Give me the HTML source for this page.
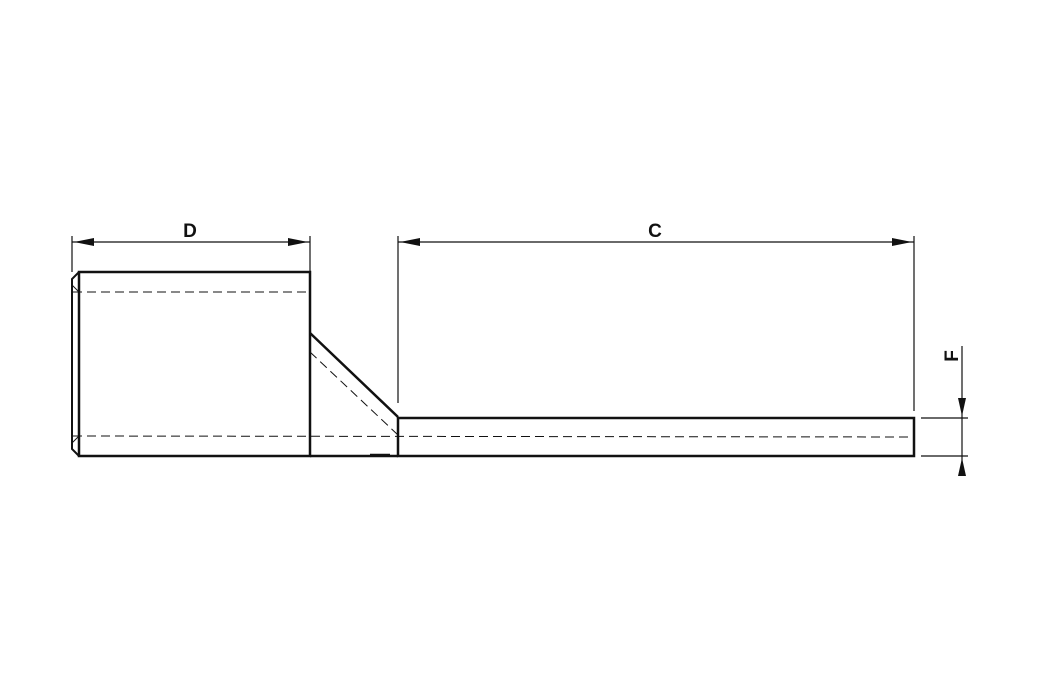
<!DOCTYPE html>
<html><head><meta charset="utf-8"><style>html,body{margin:0;padding:0;background:#fff}svg{display:block}</style></head>
<body>
<svg width="1045" height="674" viewBox="0 0 1045 674" xmlns="http://www.w3.org/2000/svg">
<g fill="none" stroke="#111">
<path d="M79,272 H310 V456 H79 Z" stroke-width="2.5"/>
<path d="M79,272 L72,279 V449 L79,456" stroke-width="2"/>
<path d="M310,333 L398,417 M310,456 H398 M370,455 H390" stroke-width="2.5"/>
<path d="M398,418 H914 V456 H398 Z" stroke-width="2.5"/>
<g stroke-width="1" stroke-dasharray="9,5">
<line x1="73" y1="292" x2="310" y2="292"/>
<line x1="73" y1="436" x2="914" y2="437"/>
<line x1="310" y1="352" x2="398" y2="435"/>
</g>
<line x1="72" y1="285" x2="79" y2="292" stroke-width="1"/>
<line x1="72" y1="443" x2="79" y2="436" stroke-width="1"/>
<g stroke-width="1.2">
<line x1="72" y1="236" x2="72" y2="272"/>
<line x1="310" y1="236" x2="310" y2="272"/>
<line x1="72" y1="242" x2="310" y2="242"/>
<line x1="398" y1="236" x2="398" y2="403"/>
<line x1="914" y1="236" x2="914" y2="411"/>
<line x1="398" y1="242" x2="914" y2="242"/>
<line x1="962" y1="346" x2="962" y2="476"/>
<line x1="921" y1="418" x2="968" y2="418"/>
<line x1="921" y1="456" x2="968" y2="456"/>
</g>
</g>
<g fill="#111">
<polygon points="74,242 94,238 94,246"/>
<polygon points="308,242 288,238 288,246"/>
<polygon points="400,242 420,238 420,246"/>
<polygon points="912,242 892,238 892,246"/>
<polygon points="962,416 958,398 966,398"/>
<polygon points="962,458 958,476 966,476"/>
</g>
<g font-family="Liberation Sans, sans-serif" font-size="19" font-weight="bold" fill="#111">
<text x="190" y="237" text-anchor="middle">D</text>
<text x="655" y="237" text-anchor="middle">C</text>
<text x="0" y="0" text-anchor="middle" transform="translate(958,356) rotate(-90)">F</text>
</g>
</svg>
</body></html>
